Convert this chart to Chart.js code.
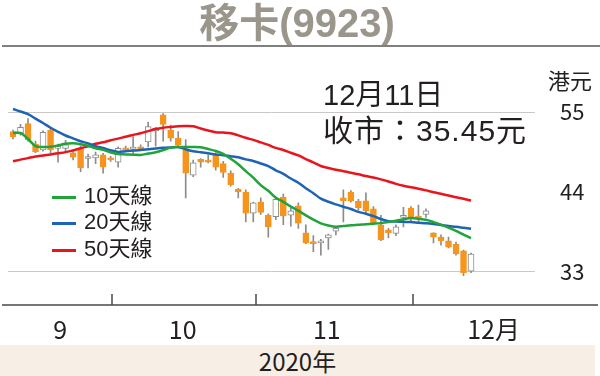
<!DOCTYPE html>
<html>
<head>
<meta charset="utf-8">
<script src="https://cdn.jsdelivr.net/npm/chart.js@4.4.0/dist/chart.umd.min.js"></script>
<style>
body { margin: 0; background: #fff; }
#wrap { position: relative; width: 600px; height: 376px; overflow: hidden;
  font-family: "Liberation Sans", "Noto Sans CJK TC", sans-serif; color: #231f20; }
canvas { position: absolute; left: 0; top: 0; }
#title { position: absolute; left: 0; top: 0px; width: 594px; text-align: center;
  font-weight: bold; font-size: 40px; line-height: 46px; color: #9b968b; }
#rule { position: absolute; left: 2px; top: 45px; width: 598px; border-top: 2px solid #808080; }
.note { position: absolute; left: 323px; font-size: 29px; line-height: 32px; white-space: nowrap; }
#unit { position: absolute; left: 548px; top: 69px; font-size: 22px; line-height: 26px; }
.leg { position: absolute; left: 52px; font-size: 22px; line-height: 26px; white-space: nowrap; }
.leg i { display: inline-block; width: 24px; height: 3px; vertical-align: middle; margin-right: 8px; }
#band { position: absolute; left: 0; top: 345px; width: 595px; height: 31px; background: #f7eee5;
  text-align: center; font-family: "Liberation Sans Narrow", "Noto Sans CJK TC", sans-serif;
  font-size: 24px; line-height: 31px; }
</style>
</head>
<body>
<div id="wrap">
  <div id="band">2020年</div>
  <canvas id="kChart" width="600" height="376"></canvas>
  <div id="title">移卡(9923)</div>
  <div id="rule"></div>
  <div class="note" style="top:79px">12月11日</div>
  <div class="note" style="top:115px;font-size:30px;letter-spacing:1px">收市：35.45元</div>
  <div id="unit">港元</div>
  <div class="leg" style="top:183px"><i style="background:#22a33a"></i>10天線</div>
  <div class="leg" style="top:209px"><i style="background:#1f63b5"></i>20天線</div>
  <div class="leg" style="top:236px"><i style="background:#e8161c"></i>50天線</div>
</div>
<script>
// daily candles, 62 sessions (mid Sep - 11 Dec 2020)
var open = [52.3, 52.1, 53.4, 50.6, 49.8, 52.5, 50.0, 50.0, 49.4, 50.0,
  48.6, 48.7, 49.1, 48.7, 48.1, 50.0, 49.9, 50.2, 50.9, 52.4,
  54.6, 52.5, 51.4, 49.8, 46.3, 48.5, 48.4, 49.1, 47.9, 46.6,
  44.4, 44.0, 41.1, 42.6, 40.8, 40.6, 43.3, 40.8, 42.1, 38.4,
  37.1, 37.0, 37.7, 38.6, 43.2, 44.0, 42.7, 42.8, 41.7, 39.5,
  38.8, 38.3, 40.5, 41.8, 40.6, 40.9, 38.4, 37.8, 37.3, 36.8,
  35.9, 33.1];
var high = [52.5, 53.3, 54.1, 51.0, 52.4, 52.8, 50.6, 51.1, 49.8, 50.3,
  49.2, 49.5, 49.3, 48.9, 50.2, 50.3, 51.6, 50.5, 53.6, 52.9,
  54.8, 53.2, 52.3, 51.2, 48.4, 48.6, 49.1, 49.4, 48.2, 46.9,
  44.5, 44.3, 42.6, 43.2, 41.0, 43.3, 43.7, 42.0, 42.5, 39.5,
  38.0, 37.5, 38.2, 39.2, 44.3, 44.2, 43.0, 43.9, 42.0, 40.8,
  39.0, 39.5, 41.9, 42.0, 42.2, 41.7, 38.4, 38.1, 37.8, 37.1,
  36.0, 35.6];
var low = [51.3, 51.8, 51.0, 49.4, 49.6, 49.4, 48.1, 49.6, 48.4, 46.8,
  47.3, 47.9, 46.6, 48.2, 47.4, 49.6, 49.1, 49.7, 50.2, 50.3,
  51.0, 51.0, 50.2, 43.2, 46.1, 47.4, 48.0, 47.0, 46.0, 44.8,
  43.2, 39.9, 39.9, 40.9, 37.8, 40.2, 39.5, 39.3, 39.0, 36.9,
  35.8, 35.3, 36.1, 38.1, 39.9, 42.6, 41.5, 41.1, 39.5, 37.3,
  37.7, 38.0, 39.2, 40.0, 39.7, 40.5, 37.0, 36.7, 36.3, 35.3,
  32.5, 32.9];
var close = [51.6, 52.9, 51.2, 49.5, 52.2, 49.8, 50.2, 50.5, 48.8, 47.3,
  48.8, 49.1, 47.4, 48.4, 50.0, 49.8, 50.1, 49.9, 53.0, 52.8,
  53.3, 51.4, 50.5, 46.6, 48.0, 48.1, 48.1, 47.4, 46.7, 45.0,
  44.0, 41.1, 42.5, 41.2, 39.2, 43.0, 40.7, 41.4, 39.7, 37.0,
  36.9, 37.2, 38.1, 39.0, 42.8, 42.8, 41.8, 41.4, 39.7, 37.4,
  38.4, 39.2, 40.8, 40.6, 40.4, 41.4, 37.8, 37.3, 36.4, 35.5,
  32.9, 35.45];

var ma10 = [52.11, 52.11, 51.29, 50.32, 50.19, 50.21, 50.41, 50.63, 50.69, 50.57,
  50.35, 50.02, 49.79, 49.46, 49.22, 49.17, 49.13, 49.09, 49.28, 49.47,
  49.76, 50.10, 50.19, 50.19, 50.19, 50.14, 49.91, 49.64, 49.25, 48.56,
  47.81, 46.87, 45.98, 44.94, 44.16, 43.21, 42.65, 42.00, 41.44, 40.78,
  40.20, 39.69, 39.40, 39.22, 39.32, 39.43, 39.50, 39.58, 39.64, 39.72,
  39.86, 40.06, 40.24, 40.42, 40.31, 40.17, 39.86, 39.51, 39.11, 38.66,
  38.14, 37.67];
var ma20 = [55.41, 55.07, 54.70, 54.09, 53.49, 52.84, 52.28, 51.77, 51.37, 50.97,
  50.68, 50.30, 50.05, 49.75, 49.50, 49.61, 49.69, 49.77, 49.88, 49.99,
  50.08, 50.13, 50.17, 49.87, 49.61, 49.47, 49.32, 49.17, 49.06, 48.92,
  48.77, 48.49, 48.26, 47.92, 47.56, 46.98, 46.50, 45.85, 45.28, 44.52,
  43.84, 43.09, 42.66, 42.30, 41.97, 41.66, 41.27, 41.01, 40.68, 40.28,
  39.99, 39.94, 39.90, 39.86, 39.77, 39.69, 39.59, 39.47, 39.33, 39.21,
  39.07, 38.93];
var ma50 = [48.22, 48.45, 48.66, 48.87, 49.02, 49.17, 49.32, 49.48, 49.72, 50.02,
  50.28, 50.63, 50.83, 51.11, 51.34, 51.60, 51.84, 52.08, 52.37, 52.66,
  52.84, 52.95, 53.05, 53.07, 53.03, 52.74, 52.46, 52.22, 52.17, 52.07,
  51.78, 51.45, 51.16, 50.82, 50.47, 50.06, 49.77, 49.39, 49.03, 48.52,
  48.08, 47.57, 47.30, 47.06, 46.86, 46.64, 46.43, 46.20, 45.99, 45.74,
  45.45, 45.12, 44.86, 44.66, 44.45, 44.22, 43.97, 43.76, 43.51, 43.29,
  43.06, 42.83];

var months = ["9", "10", "11", "12月"];
var monthMid = [6.3, 22.6, 41.8, 64.0];     // label positions (session index)
var monthStart = [13.2, 32.3, 53.3];        // month boundaries (session index)
var yTicks = [33, 44, 55];

var narrow = '"Liberation Sans Narrow", "Noto Sans CJK TC", sans-serif';
var idx = open.map(function(_, i) { return i; });
var isUp = idx.map(function(i) { return close[i] >= open[i]; });

function series(arr) {
  return arr.map(function(v, i) { return { x: i, y: v }; });
}

var monthAxis = {
  id: "monthAxis",
  afterDraw: function(chart) {
    var ctx = chart.ctx;
    var yb = chart.chartArea.bottom;
    var x = chart.scales.x;
    ctx.save();
    ctx.strokeStyle = "#4a4a4a";
    ctx.lineWidth = 1.5;
    ctx.beginPath();
    ctx.moveTo(2, yb);
    ctx.lineTo(chart.width - 2, yb);
    monthStart.forEach(function(v) {
      var px = Math.round(x.getPixelForValue(v));
      ctx.moveTo(px, yb);
      ctx.lineTo(px, yb - 11);
    });
    ctx.stroke();
    ctx.restore();
  }
};

var kChart = new Chart(document.getElementById("kChart"), {
  data: {
    datasets: [
      { type: "line", label: "10天線", data: series(ma10), borderColor: "#22a33a",
        borderWidth: 2.5, pointRadius: 0, tension: 0.35, order: 0 },
      { type: "line", label: "20天線", data: series(ma20), borderColor: "#1f63b5",
        borderWidth: 2.5, pointRadius: 0, tension: 0.35, order: 0 },
      { type: "line", label: "50天線", data: series(ma50), borderColor: "#e8161c",
        borderWidth: 2.5, pointRadius: 0, tension: 0.35, order: 0 },
      { type: "bar", label: "body",
        data: idx.map(function(i) {
          return { x: i, y: [Math.min(open[i], close[i]), Math.max(open[i], close[i])] };
        }),
        backgroundColor: isUp.map(function(u) { return u ? "#ffffff" : "#f7941d"; }),
        borderColor: isUp.map(function(u) { return u ? "#8c8c8c" : "#f7941d"; }),
        borderWidth: 1, borderSkipped: false, barThickness: 6, minBarLength: 2,
        grouped: false, order: 1 },
      { type: "bar", label: "wick",
        data: idx.map(function(i) { return { x: i, y: [low[i], high[i]] }; }),
        backgroundColor: "#8c8c8c", barThickness: 1, grouped: false, order: 2 }
    ]
  },
  options: {
    responsive: false,
    animation: false,
    layout: { padding: { left: 8, top: 59.5, right: 0, bottom: 0 } },
    plugins: { legend: { display: false }, tooltip: { enabled: false }, title: { display: false } },
    scales: {
      x: {
        type: "linear", min: -0.666, max: 69.52, offset: false,
        grid: { display: false }, border: { display: false },
        afterBuildTicks: function(s) { s.ticks = monthMid.map(function(v) { return { value: v }; }); },
        afterFit: function(s) { s.height = 71; },
        ticks: { autoSkip: false, maxRotation: 0, padding: 1, color: "#231f20",
          font: { family: narrow, size: 25 },
          callback: function(v, i) { return months[i]; } }
      },
      y: {
        position: "right", min: 28.46, max: 62.22,
        afterBuildTicks: function(s) { s.ticks = yTicks.map(function(v) { return { value: v }; }); },
        afterFit: function(s) { s.width = 65; },
        border: { display: false },
        grid: { drawTicks: false, lineWidth: 1,
          color: function(c) { return c.tick && c.tick.value === 44 ? "rgba(0,0,0,0)" : "#c8c8c8"; } },
        ticks: { padding: 25, color: "#231f20", font: { family: narrow, size: 22 } }
      }
    }
  },
  plugins: [monthAxis]
});
</script>
</body>
</html>
